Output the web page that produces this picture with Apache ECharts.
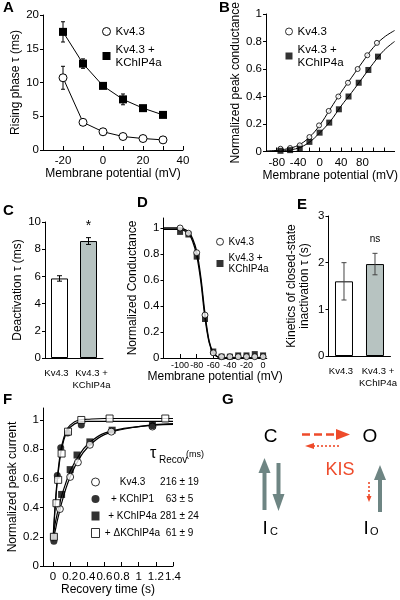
<!DOCTYPE html>
<html><head><meta charset="utf-8">
<script src="https://cdn.jsdelivr.net/npm/echarts@6/dist/echarts.min.js"></script>
<style>html,body{margin:0;padding:0;background:#fff}#c{width:400px;height:600px}</style>
</head><body><div id="c"></div>
<script>
// ---------- DATA ----------
// Panel A
const aVolt = [-20, -10, 0, 10, 20, 30];
const aKv = [10.7, 4.1, 2.7, 2.0, 1.7, 1.5];
const aKvErr = [1.7, 0, 0, 0, 0, 0];
const aKC = [17.5, 12.8, 9.5, 7.5, 6.2, 5.2];
const aKCErr = [1.5, 0.7, 0, 0.8, 0, 0];
const aXLabels = [-20, 0, 20, 40];
const aXTicks = [-20, -10, 0, 10, 20, 30, 40];
const aYLabels = [0, 5, 10, 15, 20];
// Panel B
const bKvV = [-73, -55, -37, -19, -1, 17, 35, 53, 71, 89, 107];
const bKvG = [0.02, 0.025, 0.045, 0.105, 0.19, 0.295, 0.40, 0.50, 0.60, 0.70, 0.79];
const bKCV = [-73, -55, -37, -19, 0, 18, 36, 54, 73, 91, 109];
const bKCG = [0.005, 0.01, 0.02, 0.07, 0.137, 0.21, 0.307, 0.40, 0.50, 0.593, 0.69];
const bFitV = [-100, -80, -60, -40, -20, 0, 20, 40, 60, 80, 100, 120, 140];
const bFitKv = [0.003, 0.008, 0.02, 0.045, 0.10, 0.19, 0.31, 0.43, 0.54, 0.65, 0.755, 0.83, 0.88];
const bFitKC = [0.001, 0.004, 0.01, 0.025, 0.065, 0.135, 0.22, 0.33, 0.43, 0.535, 0.64, 0.735, 0.80];
const bXLabels = [-80, -40, 0, 40, 80];
const bXTicks = [-80, -60, -40, -20, 0, 20, 40, 60, 80, 100, 120];
const bYLabels = [0, 0.2, 0.4, 0.6, 0.8, 1];
// Panel C
const cCategories = ['Kv4.3', 'Kv4.3 +\nKChIP4a'];
const cValues = [5.85, 8.6];
const cErr = [0.2, 0.25];
const cMarks = ['', '*'];
const cYLabels = [0, 2, 4, 6, 8, 10];
// Panel D
const dVolt = [-100, -90, -80, -70, -60, -50, -40, -30, -20, -10, 0];
const dKv = [1.0, 0.96, 0.81, 0.33, 0.04, 0.01, 0.01, 0.01, 0.01, 0.01, 0.01];
const dKC = [0.97, 0.95, 0.78, 0.30, 0.05, 0.01, 0.01, 0.02, 0.02, 0.03, 0.02];
const dFitV = [-120, -100, -95, -90, -85, -80, -75, -70, -65, -60, -55, -50, 0];
const dFitKv = [1, 1, 0.99, 0.97, 0.92, 0.82, 0.62, 0.34, 0.13, 0.04, 0.01, 0, 0];
const dFitKC = [0.99, 0.99, 0.98, 0.96, 0.9, 0.79, 0.59, 0.31, 0.12, 0.035, 0.01, 0, 0];
const dXLabels = [-100, -80, -60, -40, -20, 0];
const dYLabels = [0, 0.2, 0.4, 0.6, 0.8, 1];
// Panel E
const eCategories = ['Kv4.3', 'Kv4.3 +\nKChIP4a'];
const eValues = [1.6, 1.97];
const eErr = [0.4, 0.23];
const eMarks = ['', 'ns'];
const eYLabels = [0, 1, 2, 3];
// Panel F
const fNames = ['Kv4.3', '+ KChIP1', '+ KChIP4a', '+ \u0394KChIP4a'];
const fTaus = ['216 \u00b1 19', '63 \u00b1 5', '281 \u00b1 24', '61 \u00b1 9'];
const fKvT = [0.08, 0.2, 0.29, 0.43, 0.68, 1.16];
const fKv = [0.39, 0.61, 0.71, 0.83, 0.92, 0.955];
const fK1T = [0.01, 0.05, 0.09, 0.17, 0.33, 1.16];
const fK1 = [0.17, 0.62, 0.81, 0.91, 0.965, 0.96];
const fK4T = [0.01, 0.1, 0.2, 0.28, 0.43, 0.69, 1.16];
const fK4 = [0.2, 0.49, 0.66, 0.76, 0.85, 0.93, 0.965];
const fDT = [0.01, 0.04, 0.06, 0.1, 0.175, 0.33, 0.66, 1.31];
const fD = [0.2, 0.43, 0.59, 0.77, 0.92, 1.0, 1.01, 1.01];
const fFitT = [0, 0.025, 0.05, 0.075, 0.1, 0.15, 0.2, 0.3, 0.4, 0.6, 1.0, 1.4];
const fFitK1 = [0.17, 0.40, 0.58, 0.71, 0.80, 0.905, 0.95, 0.985, 0.99, 0.99, 0.99, 0.99];
const fFitD = [0.19, 0.42, 0.60, 0.73, 0.82, 0.92, 0.965, 1.0, 1.005, 1.01, 1.01, 1.01];
const fFitKv = [0.18, 0.24, 0.31, 0.37, 0.43, 0.53, 0.61, 0.73, 0.81, 0.9, 0.955, 0.975];
const fFitK4 = [0.2, 0.29, 0.36, 0.42, 0.48, 0.57, 0.65, 0.755, 0.83, 0.91, 0.955, 0.97];
const fXLabels = [0, 0.2, 0.4, 0.6, 0.8, 1, 1.2, 1.4];
const fYLabels = [0, 0.2, 0.4, 0.6, 0.8, 1];

// ---------- STYLE / HELPERS ----------
const FONT = '"Liberation Sans",Arial,sans-serif';
const BLACK = '#000';
const RED = '#ee4b2b';
const SLATE = '#6e8583';
const BARGRAY = '#b7c3c1';
const pairs = (xs, ys) => xs.map((x, i) => [x, ys[i]]);
const axLine = { show: true, onZero: false, lineStyle: { color: BLACK, width: 1 } };

function xAxis(grid, min, max, labels, ticks, name, o) {
  o = o || {};
  return {
    type: 'value', gridIndex: grid, min: min, max: max,
    axisLine: axLine,
    axisTick: { show: true, inside: true, length: 4, customValues: ticks, lineStyle: { color: BLACK } },
    axisLabel: { show: true, customValues: labels, color: BLACK, fontSize: o.fs || 11.5, fontFamily: FONT, margin: o.margin || 5,
      formatter: v => String(v), hideOverlap: false, showMinLabel: true, showMaxLabel: true },
    splitLine: { show: false },
    name: name, nameLocation: 'middle', nameGap: o.nameGap || 17,
    nameTextStyle: { color: BLACK, fontSize: o.nfs || 12, fontFamily: FONT }
  };
}
// category label nudges (style only): first label slightly left, second slightly right
const catNudge = [{ padding: [0, 6, 0, 0] }, { padding: [0, 0, 0, 6] }];
function catAxis(grid, cats, fs) {
  return {
    type: 'category', gridIndex: grid, boundaryGap: true,
    data: cats.map((c, i) => ({ value: c, textStyle: catNudge[i] })),
    axisLine: axLine,
    axisTick: { show: false },
    axisLabel: { show: true, interval: 0, color: BLACK, fontSize: fs, lineHeight: 12, fontFamily: FONT, margin: 9, hideOverlap: false },
    splitLine: { show: false }
  };
}
function yAxis(grid, min, max, labels, name, o) {
  o = o || {};
  return {
    type: 'value', gridIndex: grid, min: min, max: max,
    axisLine: axLine,
    axisTick: { show: true, inside: false, length: 3, customValues: labels, lineStyle: { color: BLACK } },
    axisLabel: { show: true, customValues: labels, color: BLACK, fontSize: o.fs || 11.5, fontFamily: FONT, margin: o.margin || 4,
      formatter: v => String(v), showMinLabel: true, showMaxLabel: true },
    splitLine: { show: false },
    name: name, nameLocation: 'middle', nameGap: o.nameGap || 18,
    nameTextStyle: { color: BLACK, fontSize: o.nfs || 12, fontFamily: FONT, lineHeight: o.lh || 13 }
  };
}
function errSeries(ax, xs, ys, errs, color, cap, z) {
  const data = [];
  xs.forEach((x, i) => { if (errs[i] > 0) data.push([x, ys[i] - errs[i], ys[i] + errs[i]]); });
  return {
    type: 'custom', xAxisIndex: ax, yAxisIndex: ax, silent: true, z: z || 1,
    encode: { x: 0, y: [1, 2] },
    data: data,
    renderItem: (params, api) => {
      const lo = api.coord([api.value(0), api.value(1)]);
      const hi = api.coord([api.value(0), api.value(2)]);
      const st = { stroke: color, lineWidth: 1 };
      return { type: 'group', children: [
        { type: 'line', shape: { x1: lo[0], y1: lo[1], x2: hi[0], y2: hi[1] }, style: st },
        { type: 'line', shape: { x1: lo[0] - cap, y1: lo[1], x2: lo[0] + cap, y2: lo[1] }, style: st },
        { type: 'line', shape: { x1: hi[0] - cap, y1: hi[1], x2: hi[0] + cap, y2: hi[1] }, style: st }
      ] };
    }
  };
}
const openSym = { color: '#fff', borderColor: BLACK, borderWidth: 1 };
const fillSym = { color: BLACK, borderColor: BLACK, borderWidth: 0 };
function scatter(ax, name, xs, ys, sym, size, style, z) {
  return { type: 'scatter', name: name, xAxisIndex: ax, yAxisIndex: ax, data: pairs(xs, ys),
    symbol: sym, symbolSize: size, itemStyle: style, z: z || 3 };
}
function curve(ax, xs, ys, width, smooth) {
  return { type: 'line', xAxisIndex: ax, yAxisIndex: ax, data: pairs(xs, ys), symbol: 'none', smooth: smooth,
    lineStyle: { color: BLACK, width: width }, silent: true, z: 2 };
}
function legend(left, top, items, fs, gap, extra) {
  return Object.assign({
    left: left, top: top, padding: 0, orient: 'vertical', selectedMode: false, itemWidth: 8, itemHeight: 8, itemGap: gap,
    data: items, formatter: n => n.split('|')[1],
    textStyle: { color: BLACK, fontSize: fs, fontFamily: FONT, lineHeight: fs + 1.5 }
  }, extra || {});
}
const barFill = ['#fff', BARGRAY];
function bars(ax, values, marks, dist, fs, width) {
  return { type: 'bar', xAxisIndex: ax, yAxisIndex: ax, barWidth: width, z: 2,
    data: values.map((v, i) => ({ value: v, itemStyle: { color: barFill[i], borderColor: BLACK, borderWidth: 1 } })),
    label: { show: true, position: 'top', distance: dist, color: BLACK, fontSize: fs, fontFamily: FONT,
      formatter: p => marks[p.dataIndex] } };
}

// ---------- GRAPHIC (panel letters, F header, G diagram) ----------
function txt(x, y, s, size, color, bold, align) {
  return { type: 'text', x: x, y: y, style: { text: s, fill: color || BLACK,
    font: (bold ? 'bold ' : '') + size + 'px "Liberation Sans",Arial,sans-serif',
    textAlign: align || 'left', textVerticalAlign: 'middle', align: align || 'left', verticalAlign: 'middle' } };
}
function seg(x1, y1, x2, y2, color, w, dash) {
  return { type: 'line', shape: { x1: x1, y1: y1, x2: x2, y2: y2 }, style: { stroke: color, lineWidth: w, lineDash: dash || null } };
}
function tri(pts, color) { return { type: 'polygon', shape: { points: pts }, style: { fill: color } }; }

const graphics = [
  txt(3, 8, 'A', 15, BLACK, true), txt(219, 8, 'B', 15, BLACK, true),
  txt(3, 211, 'C', 15, BLACK, true), txt(137, 203, 'D', 15, BLACK, true), txt(297, 205, 'E', 15, BLACK, true),
  txt(3, 400, 'F', 15, BLACK, true), txt(222, 400, 'G', 15, BLACK, true),
  // F legend header
  txt(150, 454, '\u03c4', 16), txt(159, 460, 'Recov', 10), txt(186, 455, '(ms)', 9),
  // G diagram
  txt(270.5, 437, 'C', 19, BLACK, false, 'center'), txt(370, 437, 'O', 19, BLACK, false, 'center'),
  seg(302, 434.5, 337, 434.5, RED, 2.7, [8, 4]), tri([[336, 429], [350, 434.5], [336, 440]], RED),
  seg(313, 446, 341, 446, RED, 1.6, [2, 2]), tri([[305, 446], [314, 443], [314, 449]], RED),
  txt(340, 470, 'KIS', 18, RED, false, 'center'),
  seg(264.5, 471, 264.5, 510, SLATE, 4), tri([[258.5, 473], [264.5, 458], [270.5, 473]], SLATE),
  seg(278.5, 463, 278.5, 496, SLATE, 4), tri([[272.5, 494], [278.5, 511], [284.5, 494]], SLATE),
  seg(380, 478, 380, 512, SLATE, 4), tri([[374, 480], [380, 465], [386, 480]], SLATE),
  seg(369, 482, 369, 497, RED, 1.6, [2, 2]), tri([[366.5, 496], [369, 502], [371.5, 496]], RED),
  txt(262.5, 529, 'I', 19), txt(270, 532, 'C', 11),
  txt(363.5, 529, 'I', 19), txt(370, 532, 'O', 11)
];

// ---------- OPTION ----------
const option = {
  animation: false,
  backgroundColor: '#fff',
  textStyle: { fontFamily: FONT },
  grid: [
    { left: 43, top: 15, width: 140, height: 135 },       // A
    { left: 266, top: 14, width: 133, height: 137.5 },    // B
    { left: 45, top: 222, width: 58, height: 136 },       // C
    { left: 163.5, top: 218, width: 103.3, height: 140 }, // D
    { left: 328.5, top: 216, width: 62, height: 140 },    // E
    { left: 43, top: 408, width: 130, height: 158 }       // F
  ],
  xAxis: [
    xAxis(0, -30, 40, aXLabels, aXTicks, 'Membrane potential (mV)', { nameGap: 17 }),
    xAxis(1, -100, 140, bXLabels, bXTicks, 'Membrane potential (mV)', { nameGap: 17 }),
    catAxis(2, cCategories, 9.5),
    xAxis(3, -120, 4.5, dXLabels, dXLabels, 'Membrane potential (mV)', { fs: 9, margin: 3, nameGap: 13 }),
    catAxis(4, eCategories, 9.5),
    xAxis(5, -0.117, 1.4, fXLabels, fXLabels, 'Recovery time (s)', { nameGap: 17 })
  ],
  yAxis: [
    yAxis(0, 0, 20, aYLabels, 'Rising phase \u03c4 (ms)', { nameGap: 16 }),
    yAxis(1, 0, 1, bYLabels, 'Normalized peak conductance', { nameGap: 23 }),
    yAxis(2, 0, 10, cYLabels, 'Deactivation \u03c4 (ms)', { nameGap: 16 }),
    yAxis(3, 0, 1.077, dYLabels, 'Normalized Conductance', { nameGap: 17 }),
    yAxis(4, 0, 3, eYLabels, 'Kinetics of closed-state\ninactivation \u03c4 (s)', { nameGap: 17 }),
    yAxis(5, 0, 1.082, fYLabels, 'Normalized peak current', { nameGap: 17 })
  ],
  legend: [
    legend(102, 25, [
      { name: 'A|Kv4.3', icon: 'circle', itemStyle: openSym },
      { name: 'A|Kv4.3 +\nKChIP4a', icon: 'rect', itemStyle: fillSym }], 11.5, 5),
    legend(285, 25, [
      { name: 'B|Kv4.3', icon: 'circle', itemStyle: openSym },
      { name: 'B|Kv4.3 +\nKChIP4a', icon: 'rect', itemStyle: fillSym }], 11.5, 5, { itemWidth: 7, itemHeight: 7 }),
    legend(216, 236, [
      { name: 'D|Kv4.3', icon: 'circle', itemStyle: openSym },
      { name: 'D|Kv4.3 +\nKChIP4a', icon: 'rect', itemStyle: fillSym }], 10, 4.5, { itemWidth: 7, itemHeight: 7 }),
    legend(91, 476, [
      { name: 'F|0', icon: 'circle', itemStyle: openSym },
      { name: 'F|1', icon: 'circle', itemStyle: fillSym },
      { name: 'F|2', icon: 'rect', itemStyle: fillSym },
      { name: 'F|3', icon: 'rect', itemStyle: openSym }], 10, 5, {
        itemHeight: 9,
        formatter: n => { const i = +n.split('|')[1]; return '{n|' + fNames[i] + '}{t|' + fTaus[i] + '}'; },
        textStyle: { color: BLACK, fontSize: 10, fontFamily: FONT, lineHeight: 12,
          rich: { n: { width: 56, align: 'center', fontSize: 10, fontFamily: FONT },
                  t: { width: 38, align: 'center', fontSize: 10, fontFamily: FONT } } } })
  ],
  series: [
    // A
    errSeries(0, aVolt, aKv, aKvErr, BLACK, 2),
    errSeries(0, aVolt, aKC, aKCErr, BLACK, 2),
    { type: 'line', name: 'A|Kv4.3', xAxisIndex: 0, yAxisIndex: 0, data: pairs(aVolt, aKv), symbol: 'circle', symbolSize: 8,
      itemStyle: openSym, lineStyle: { color: BLACK, width: 1 }, z: 3 },
    { type: 'line', name: 'A|Kv4.3 +\nKChIP4a', xAxisIndex: 0, yAxisIndex: 0, data: pairs(aVolt, aKC), symbol: 'rect', symbolSize: 8,
      itemStyle: fillSym, lineStyle: { color: BLACK, width: 1 }, z: 3 },
    // B
    curve(1, bFitV, bFitKv, 1, 0.4), curve(1, bFitV, bFitKC, 1, 0.4),
    scatter(1, 'B|Kv4.3', bKvV, bKvG, 'circle', 5, openSym),
    scatter(1, 'B|Kv4.3 +\nKChIP4a', bKCV, bKCG, 'rect', 6, fillSym),
    // C
    bars(2, cValues, cMarks, 8, 14, 17),
    errSeries(2, [0, 1], cValues, cErr, BLACK, 2.5, 4),
    // D
    curve(3, dFitV, dFitKv, 1.3, 0.35), curve(3, dFitV, dFitKC, 1.3, 0.35),
    scatter(3, 'D|Kv4.3 +\nKChIP4a', dVolt, dKC, 'rect', 6, fillSym),
    scatter(3, 'D|Kv4.3', dVolt, dKv, 'circle', 6, openSym),
    // E
    bars(4, eValues, eMarks, 20, 10, 18),
    errSeries(4, [0, 1], eValues, eErr, '#444', 2.5, 4),
    // F
    curve(5, fFitT, fFitK1, 1.2, 0.4), curve(5, fFitT, fFitD, 1.2, 0.4),
    curve(5, fFitT, fFitKv, 1.2, 0.4), curve(5, fFitT, fFitK4, 1.2, 0.4),
    scatter(5, 'F|2', fK4T, fK4, 'rect', 7, fillSym),
    scatter(5, 'F|0', fKvT, fKv, 'circle', 7, openSym),
    scatter(5, 'F|1', fK1T, fK1, 'circle', 7, fillSym),
    scatter(5, 'F|3', fDT, fD, 'rect', 7, openSym)
  ],
  graphic: graphics
};
const chart = echarts.init(document.getElementById('c'), null, { renderer: 'canvas' });
chart.setOption(option);
</script>
</body></html>
